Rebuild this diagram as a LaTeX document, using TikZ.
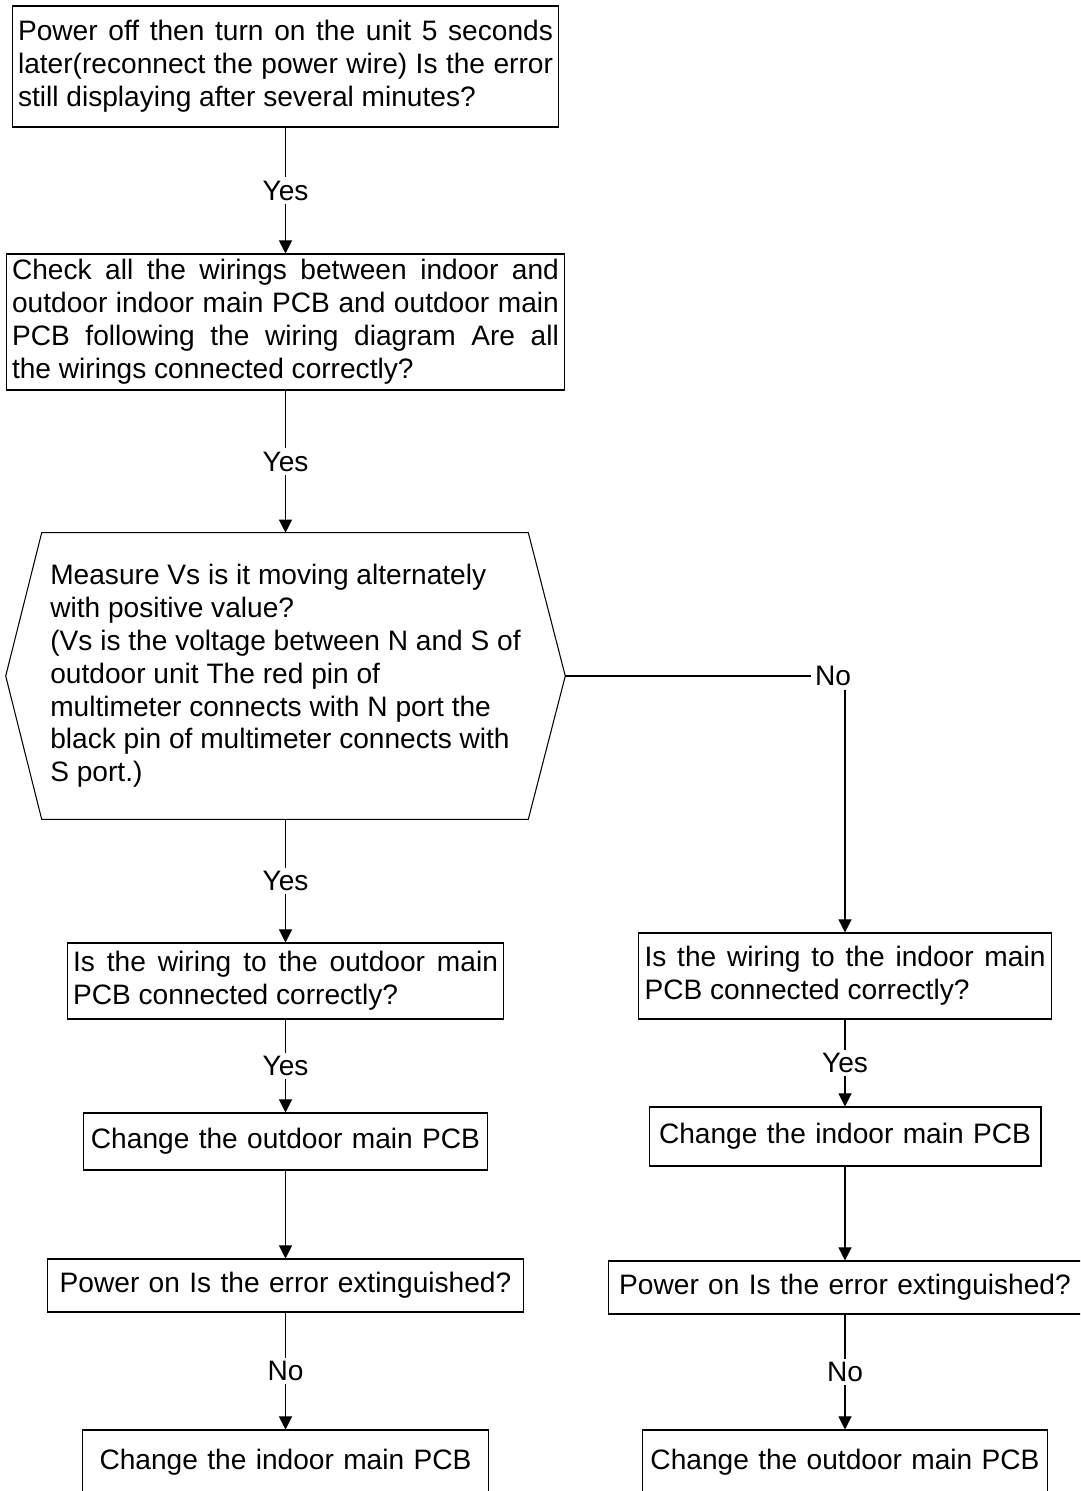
\documentclass[tikz,border=0pt]{standalone}
\usepackage{fontspec}
\setmainfont{Liberation Sans}
\usetikzlibrary{arrows.meta, calc}
\definecolor{lineColor}{RGB}{0, 0, 0}

\begin{document}
\begin{tikzpicture}[x=0.02cm, y=-0.02cm, font=\fontsize{16}{18.7}\selectfont,
	box/.style={draw=lineColor, line width=0.6pt, inner sep=0pt},
	flow/.style={lineColor, line width=0.6pt, -{Triangle[width=7.5pt, length=7.5pt]}},
	answer/.style={fill=white, inner sep=2pt}]
	% Page frame (the bottom boxes run off the page)
	\useasboundingbox (0, 0) rectangle (1080, 1491);
	\clip (0, 0) rectangle (1080, 1491);

	% First question: power cycle
	\node[box, minimum width=10.94cm, minimum height=2.42cm, text width=10.7cm, align=justify] (q0) at (285.5, 66.5)
		{Power off then turn on the unit 5 seconds\linebreak later(reconnect the power wire) Is the error\linebreak still displaying after several minutes?};

	% Second question: wiring check
	\node[box, minimum width=11.18cm, minimum height=2.72cm, text width=10.94cm, align=justify] (q1) at (285.5, 322)
		{Check all the wirings between indoor and\linebreak outdoor indoor main PCB and outdoor main\linebreak PCB following the wiring diagram Are all\linebreak the wirings connected correctly?};

	% Hexagon: measure Vs
	\node[inner sep=0pt, minimum width=11.18cm, minimum height=5.72cm, align=left] (q2) at (285.5, 676)
		{Measure Vs is it moving alternately\\ with positive value?\\ (Vs is the voltage between N and S of\\ outdoor unit The red pin of\\ multimeter connects with N port the\\ black pin of multimeter connects with\\ S port.)};
	\draw[lineColor, line width=0.6pt] (q2.west) -- ($(q2.north west)+(36, 0)$) -- ($(q2.north east)+(-37, 0)$)
		-- (q2.east) -- ($(q2.south east)+(-37, 0)$) -- ($(q2.south west)+(36, 0)$) -- cycle;

	% Left branch (Yes)
	\node[box, minimum width=8.74cm, minimum height=1.52cm, text width=8.5cm, align=justify] (q3l) at (285.5, 981)
		{Is the wiring to the outdoor main\linebreak PCB connected correctly?};
	\node[box, minimum width=8.1cm, minimum height=1.14cm, text width=7.86cm, align=center] (c1l) at (285.5, 1141.5)
		{Change the outdoor main PCB};
	\node[box, minimum width=9.52cm, minimum height=1.06cm, text width=9.28cm, align=center] (p1l) at (285.5, 1285.5)
		{Power on Is the error extinguished?};
	\node[box, minimum width=8.14cm, minimum height=1.28cm, text width=7.9cm, align=center] (c2l) at (285.5, 1462)
		{Change the indoor main PCB};

	% Right branch (No)
	\node[answer] (no0) at (833, 676) {No};
	\node[box, minimum width=8.26cm, minimum height=1.72cm, text width=8.02cm, align=justify] (q3r) at (845, 976)
		{Is the wiring to the indoor main\linebreak PCB connected correctly?};
	\node[box, minimum width=7.84cm, minimum height=1.18cm, text width=7.6cm, align=center] (c1r) at (845, 1136.5)
		{Change the indoor main PCB};
	\node[box, minimum width=9.46cm, minimum height=1.06cm, text width=9.22cm, align=center] (p1r) at (845, 1287.5)
		{Power on Is the error extinguished?};
	\node[box, minimum width=8.12cm, minimum height=1.28cm, text width=7.88cm, align=center] (c2r) at (845, 1462)
		{Change the outdoor main PCB};

	% Connectors
	\draw[flow] (q0) -- (q1) node[answer, midway] {Yes};
	\draw[flow] (q1) -- (q2) node[answer, midway] {Yes};
	\draw[flow] (q2) -- (q3l) node[answer, midway] {Yes};
	\draw[flow] (q3l) -- (c1l) node[answer, midway] {Yes};
	\draw[flow] (c1l) -- (p1l);
	\draw[flow] (p1l) -- (c2l) node[answer, midway] {No};
	\draw[lineColor, line width=0.6pt] (q2.east) -- (no0);
	\draw[flow] (no0.south -| q3r.north) -- (q3r.north);
	\draw[flow] (q3r) -- (c1r) node[answer, midway] {Yes};
	\draw[flow] (c1r) -- (p1r);
	\draw[flow] (p1r) -- (c2r) node[answer, midway] {No};
\end{tikzpicture}
\end{document}
